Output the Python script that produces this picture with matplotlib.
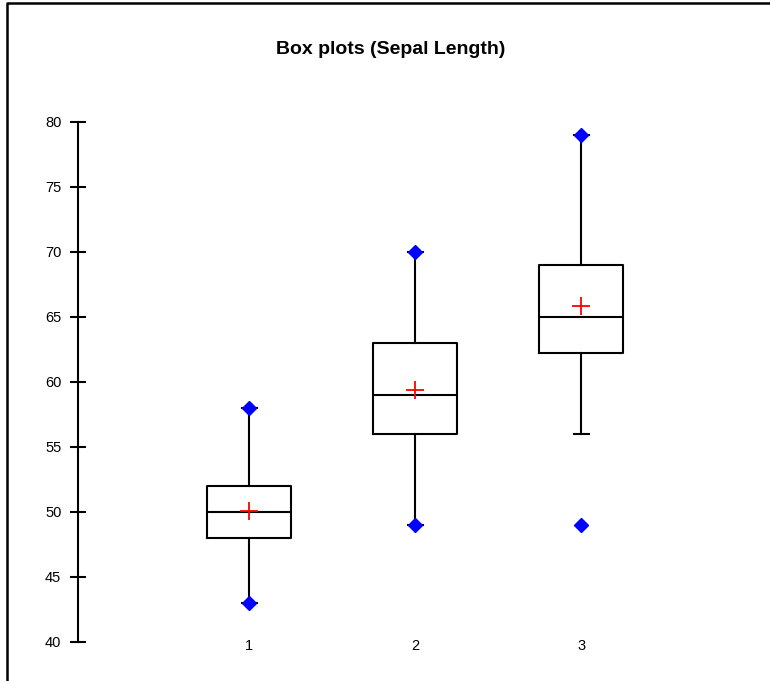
import matplotlib
matplotlib.use("Agg")
import matplotlib.pyplot as plt
from matplotlib.lines import Line2D

plt.rcParams['font.family'] = ['Liberation Sans', 'DejaVu Sans']

# box plot stats
groups = ['1', '2', '3']
q1 = [48, 56, 62.25]
median = [50, 59, 65]
q3 = [52, 63, 69]
whis_lo = [43, 49, 56]
whis_hi = [58, 70, 79]
means = [50.06, 59.36, 65.88]
minimum = [43, 49, 49]
maximum = [58, 70, 79]

stats = []
for i in range(len(groups)):
    stats.append({'label': groups[i], 'q1': q1[i], 'med': median[i], 'q3': q3[i],
                  'whislo': whis_lo[i], 'whishi': whis_hi[i], 'fliers': []})

fig = plt.figure(figsize=(7.7, 6.81), dpi=100)
ax = fig.add_axes([0.1013, 0.0573, 0.86, 0.7636])

pos = [1, 2, 3]
ax.bxp(stats, positions=pos, widths=0.51, showfliers=False,
       boxprops=dict(color='black', linewidth=1.5),
       medianprops=dict(color='black', linewidth=1.5),
       whiskerprops=dict(color='black', linewidth=1.5),
       capprops=dict(color='black', linewidth=1.5),
       capwidths=0.09)

ax.plot(pos, minimum, linestyle='none', marker='D', markersize=7, color='blue', zorder=4)
ax.plot(pos, maximum, linestyle='none', marker='D', markersize=7, color='blue', zorder=4)
ax.plot(pos, means, linestyle='none', marker='+', markersize=13, markeredgewidth=1.3,
        color='red', zorder=5)

ax.set_xlim(-0.03, 3.958)
ax.set_ylim(40, 80)
ax.set_yticks(range(40, 81, 5))
ax.set_xticks(pos)
ax.set_xticklabels(groups)

for s in ['top', 'right', 'bottom']:
    ax.spines[s].set_visible(False)
ax.spines['left'].set_linewidth(1.5)
ax.tick_params(axis='y', direction='inout', length=12, width=1.5, labelsize=10.5, pad=6)
ax.tick_params(axis='x', length=0, labelsize=10.5, pad=-2)

fig.text(0.5068, 0.928, 'Box plots (Sepal Length)', ha='center', va='center',
         fontsize=14, fontweight='bold')

# frame around the chart area (left and top edges)
fig.add_artist(Line2D([7 / 770, 7 / 770, 1], [0, 1 - 3 / 681, 1 - 3 / 681],
                      transform=fig.transFigure, color='black', linewidth=1.8))

fig.savefig('out.png', dpi=100)
